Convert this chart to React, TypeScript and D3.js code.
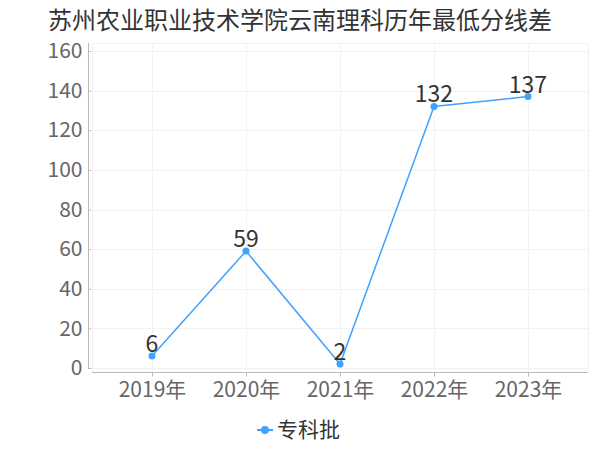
import * as React from "react";
import * as d3 from "d3";

const title = "苏州农业职业技术学院云南理科历年最低分线差";
const years = ["2019年", "2020年", "2021年", "2022年", "2023年"];
const values = [6, 59, 2, 132, 137];
const yTicks = [0, 20, 40, 60, 80, 100, 120, 140, 160];
const seriesName = "专科批";

const FONT = "'Noto Sans CJK SC', 'Noto Sans', sans-serif";
const BLUE = "#3fa2ff";

const Chart = () => {
  const svgRef = React.useRef<SVGSVGElement>(null);

  React.useEffect(() => {
    const svg = d3.select(svgRef.current);
    svg.selectAll("*").remove();

    const plot = { left: 92, right: 588, top: 43, bottom: 372 };

    const x = d3.scalePoint<string>().domain(years).range([152, 528]);
    const y = d3.scaleLinear().domain([0, 160]).range([368, 51]);

    // title
    svg
      .append("text")
      .attr("x", 48)
      .attr("y", 29)
      .attr("font-family", FONT)
      .attr("font-size", 24)
      .attr("fill", "#333")
      .text(title);

    // grid
    const grid = svg.append("g").attr("stroke", "#f2f2f2").attr("stroke-width", 1);
    grid
      .selectAll("line.h")
      .data(yTicks)
      .enter()
      .append("line")
      .attr("x1", plot.left)
      .attr("x2", plot.right)
      .attr("y1", (d) => Math.round(y(d)) + 0.5)
      .attr("y2", (d) => Math.round(y(d)) + 0.5);
    grid
      .append("line")
      .attr("x1", plot.left)
      .attr("x2", plot.right)
      .attr("y1", plot.top + 0.5)
      .attr("y2", plot.top + 0.5);
    const vx = [plot.left, ...years.map((d) => x(d) as number), plot.right];
    grid
      .selectAll("line.v")
      .data(vx)
      .enter()
      .append("line")
      .attr("x1", (d) => Math.round(d) + 0.5)
      .attr("x2", (d) => Math.round(d) + 0.5)
      .attr("y1", plot.top)
      .attr("y2", plot.bottom);

    // y axis
    const yAxis = svg
      .append("g")
      .attr("transform", "translate(88.5,0)")
      .call(d3.axisRight(y).tickValues(yTicks).tickSize(3).tickFormat((d) => String(d)));
    yAxis.select(".domain").attr("stroke", "#bbb").attr("d", `M0,${plot.top}V${y(0) + 1}`);
    yAxis.selectAll(".tick line").attr("stroke", "#bbb");
    yAxis
      .selectAll(".tick text")
      .attr("x", -6)
      .attr("text-anchor", "end")
      .attr("font-family", FONT)
      .attr("font-size", 21)
      .attr("fill", "#666");

    // x axis
    const xAxis = svg
      .append("g")
      .attr("transform", `translate(0,${plot.bottom + 0.5})`)
      .call(d3.axisBottom(x).tickSize(4).tickPadding(6));
    xAxis.select(".domain").attr("stroke", "#bbb").attr("d", `M${plot.left},0H${plot.right}`);
    xAxis.selectAll(".tick line").attr("stroke", "#bbb");
    xAxis
      .selectAll(".tick text")
      .attr("font-family", FONT)
      .attr("font-size", 21)
      .attr("fill", "#666");

    // line
    const line = d3
      .line<number>()
      .x((_, i) => x(years[i]) as number)
      .y((d) => y(d));
    svg
      .append("path")
      .datum(values)
      .attr("d", line)
      .attr("fill", "none")
      .attr("stroke", BLUE)
      .attr("stroke-width", 1.5);

    svg
      .selectAll("circle.pt")
      .data(values)
      .enter()
      .append("circle")
      .attr("cx", (_, i) => x(years[i]) as number)
      .attr("cy", (d) => y(d))
      .attr("r", 3.5)
      .attr("fill", BLUE);

    svg
      .selectAll("text.lbl")
      .data(values)
      .enter()
      .append("text")
      .attr("x", (_, i) => x(years[i]) as number)
      .attr("y", (d) => y(d) - 4)
      .attr("text-anchor", "middle")
      .attr("font-family", FONT)
      .attr("font-size", 23)
      .attr("fill", "#333")
      .text((d) => d);

    // legend
    const lg = svg.append("g").attr("transform", "translate(265,430)");
    lg.append("line")
      .attr("x1", -8)
      .attr("x2", 8)
      .attr("stroke", BLUE)
      .attr("stroke-width", 2);
    lg.append("circle").attr("r", 4).attr("fill", BLUE);
    lg.append("text")
      .attr("x", 12)
      .attr("dy", "0.35em")
      .attr("font-family", FONT)
      .attr("font-size", 21)
      .attr("fill", "#333")
      .text(seriesName);
  }, []);

  return <svg ref={svgRef} width={600} height={450} style={{ display: "block" }} />;
};

export default function App() {
  return (
    <div style={{ margin: -8 }}>
      <Chart />
    </div>
  );
}
